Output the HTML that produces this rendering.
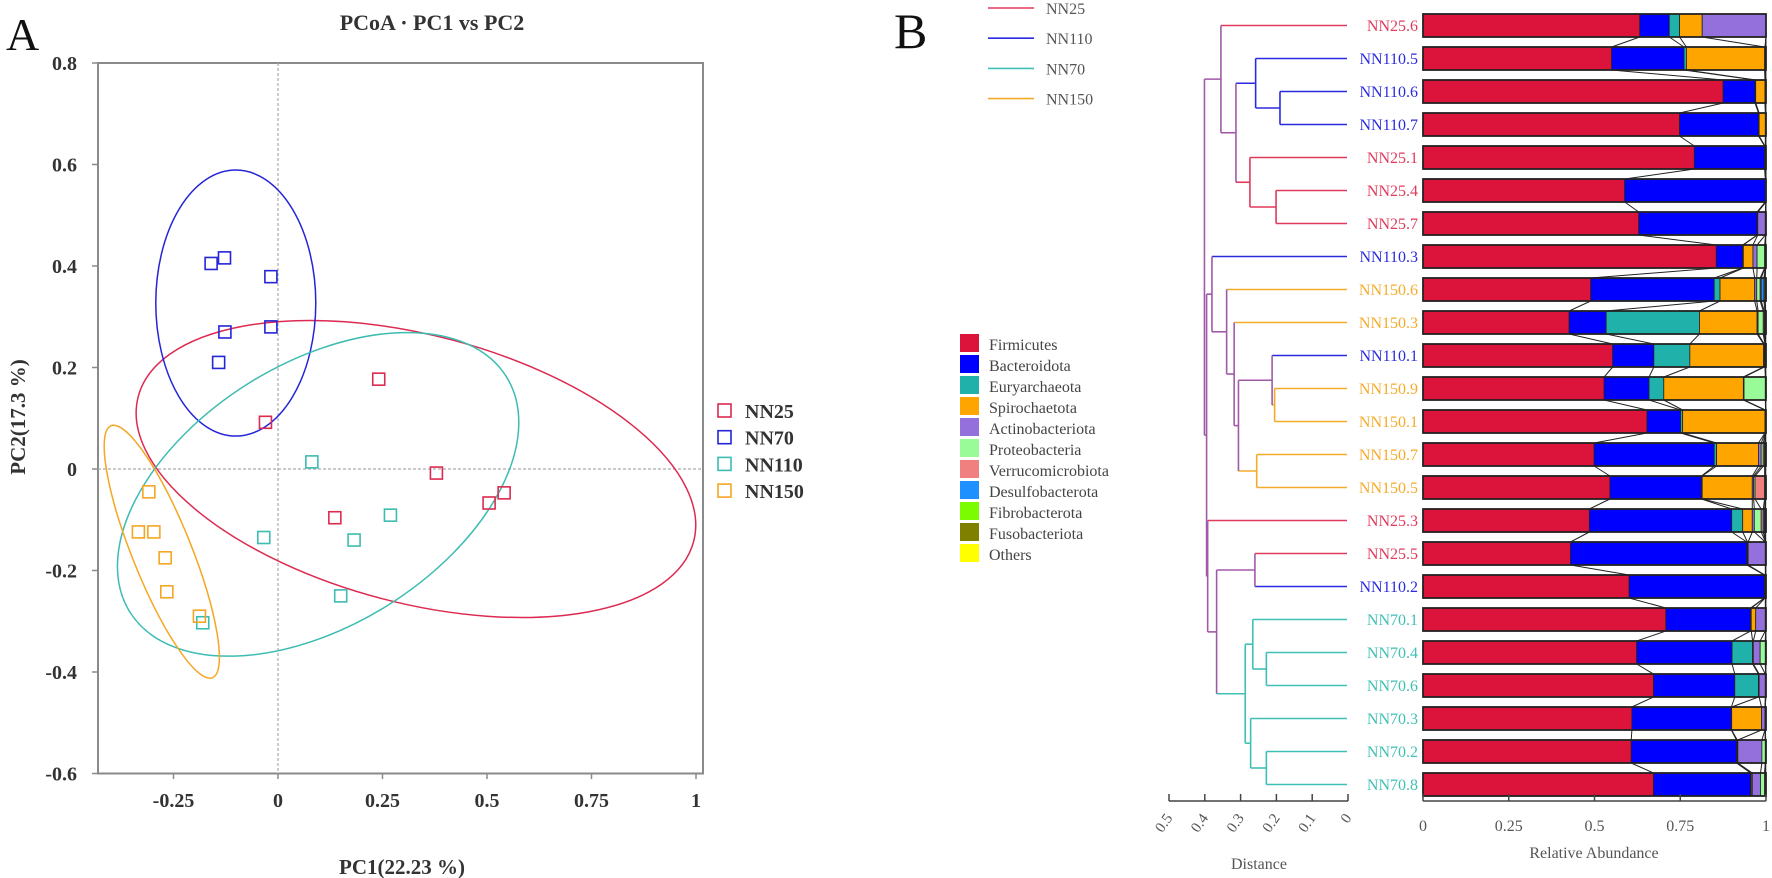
<!DOCTYPE html>
<html><head><meta charset="utf-8"><style>
html,body{margin:0;padding:0;background:#fff;}
svg{display:block;font-family:"Liberation Serif",serif;}
</style></head><body>
<svg id="fig" width="1772" height="878" viewBox="0 0 1772 878">
<text x="6" y="50" font-size="46" fill="#111">A</text>
<text x="432" y="30" font-size="22" font-weight="bold" fill="#333" text-anchor="middle">PCoA · PC1 vs PC2</text>
<text x="402" y="874" font-size="21" font-weight="bold" fill="#333" text-anchor="middle">PC1(22.23 %)</text>
<text transform="translate(25,417) rotate(-90)" font-size="21" font-weight="bold" fill="#333" text-anchor="middle">PC2(17.3 %)</text>
<text x="894" y="48" font-size="50" fill="#111">B</text>
<text x="1259" y="869" font-size="16" fill="#555" text-anchor="middle">Distance</text>
<text x="1594" y="858" font-size="16" fill="#555" text-anchor="middle">Relative Abundance</text>
<g id="pcoa"></g><g id="dend"></g><g id="bars"></g><g id="legends"></g>
</svg>
<script>
// ---------- PCoA data ----------
const groups = ["NN25","NN70","NN110","NN150"];
const groupColors = ["#dc2a50","#2424d8","#3cbcb2","#f5a623"];
const nn25PC1 = [0.241,-0.03,0.379,0.505,0.541,0.136];
const nn25PC2 = [0.177,0.092,-0.008,-0.067,-0.047,-0.096];
const nn70PC1 = [-0.16,-0.128,-0.017,-0.127,-0.017,-0.142];
const nn70PC2 = [0.405,0.416,0.379,0.27,0.28,0.21];
const nn110PC1 = [0.081,0.269,0.182,-0.034,0.15,-0.18];
const nn110PC2 = [0.014,-0.091,-0.14,-0.135,-0.25,-0.303];
const nn150PC1 = [-0.309,-0.334,-0.297,-0.27,-0.266,-0.188];
const nn150PC2 = [-0.045,-0.124,-0.124,-0.175,-0.242,-0.29];
const xTicks = [-0.25,0,0.25,0.5,0.75,1];
const xTickLabels = ["-0.25","0","0.25","0.5","0.75","1"];
const yTicks = [0.8,0.6,0.4,0.2,0,-0.2,-0.4,-0.6];
const yTickLabels = ["0.8","0.6","0.4","0.2","0","-0.2","-0.4","-0.6"];
// ellipses: center PC1, center PC2, semi-axes in PC1 / PC2 units along rotated axes approximated
const ellCx = [0.33,-0.101,0.096,-0.278];
const ellCy = [0.0,0.327,-0.050,-0.163];
const ellRx = [287,80,222,29.6];
const ellRy = [134,133,131,135.8];
const ellRot = [14.6,0,-32,-21.9];

// ---------- Cluster / bar data ----------
const sampleNames = ["NN25.6","NN110.5","NN110.6","NN110.7","NN25.1","NN25.4","NN25.7","NN110.3","NN150.6","NN150.3","NN110.1","NN150.9","NN150.1","NN150.7","NN150.5","NN25.3","NN25.5","NN110.2","NN70.1","NN70.4","NN70.6","NN70.3","NN70.2","NN70.8"];
const sampleGroup = ["NN25","NN110","NN110","NN110","NN25","NN25","NN25","NN110","NN150","NN150","NN110","NN150","NN150","NN150","NN150","NN25","NN25","NN110","NN70","NN70","NN70","NN70","NN70","NN70"];
const dendGroups = ["NN25","NN110","NN70","NN150"];
const dendColors = ["#e03a5a","#2a2ae0","#40c0b5","#f5ab2a"];
// merges: [a, b, height]; leaves referenced by name, nodes by "n"+index
const merges = [
 ["NN110.6","NN110.7",0.19],["NN110.5","n0",0.258],["NN25.4","NN25.7",0.201],["NN25.1","n2",0.274],
 ["n1","n3",0.313],["NN25.6","n4",0.355],
 ["NN150.9","NN150.1",0.205],["NN110.1","n6",0.212],["NN150.7","NN150.5",0.255],["n7","n8",0.306],
 ["NN150.3","n9",0.318],["NN150.6","n10",0.339],["NN110.3","n11",0.38],
 ["NN25.5","NN110.2",0.26],["NN70.4","NN70.6",0.228],["NN70.1","n14",0.266],["NN70.2","NN70.8",0.228],
 ["NN70.3","n16",0.272],["n15","n17",0.287],["n13","n18",0.367],["NN25.3","n19",0.392],
 ["n12","n20",0.395],["n5","n21",0.401]
];
const distTicks = [0.5,0.4,0.3,0.2,0.1,0];
const distTickLabels = ["0.5","0.4","0.3","0.2","0.1","0"];
const phyla = ["Firmicutes","Bacteroidota","Euryarchaeota","Spirochaetota","Actinobacteriota","Proteobacteria","Verrucomicrobiota","Desulfobacterota","Fibrobacterota","Fusobacteriota","Others"];
const phylaColors = ["#dc143c","#0000ff","#20b2aa","#ffa500","#9370db","#98fb98","#f08080","#1e90ff","#7cfc00","#808000","#ffff00"];
// per-sample abundances, order = phyla
const firmicutes     = [0.632,0.55,0.875,0.748,0.791,0.588,0.629,0.855,0.489,0.426,0.553,0.528,0.653,0.499,0.545,0.485,0.43,0.601,0.708,0.623,0.672,0.609,0.607,0.672];
const bacteroidota   = [0.086,0.211,0.093,0.23,0.205,0.41,0.345,0.077,0.36,0.108,0.12,0.131,0.098,0.35,0.267,0.415,0.514,0.394,0.247,0.278,0.237,0.29,0.307,0.283];
const euryarchaeota  = [0.03,0.007,0.002,0.002,0.001,0.001,0.001,0.002,0.017,0.272,0.105,0.043,0.006,0.007,0.002,0.032,0.002,0.001,0.002,0.06,0.069,0.001,0.002,0.002];
const spirochaetota  = [0.066,0.228,0.027,0.018,0.001,0.001,0.001,0.028,0.101,0.168,0.215,0.232,0.24,0.122,0.146,0.028,0.002,0.001,0.013,0.002,0.002,0.087,0.002,0.003];
const actinobact     = [0.186,0.001,0.001,0.001,0.001,0.0,0.022,0.012,0.006,0.003,0.002,0.002,0.001,0.008,0.004,0.006,0.05,0.001,0.028,0.02,0.018,0.01,0.07,0.024];
const proteobact     = [0.0,0.001,0.001,0.0,0.0,0.0,0.001,0.022,0.01,0.015,0.002,0.062,0.001,0.006,0.004,0.02,0.001,0.001,0.001,0.015,0.001,0.001,0.01,0.012];
const verrucomicro   = [0.0,0.001,0.0,0.0,0.0,0.0,0.0,0.001,0.003,0.003,0.001,0.001,0.0,0.004,0.028,0.006,0.0,0.0,0.0,0.0,0.0,0.0,0.0,0.0];
const desulfobact    = [0.0,0.0,0.0,0.0,0.0,0.0,0.0,0.001,0.008,0.002,0.001,0.0,0.0,0.002,0.002,0.004,0.0,0.0,0.0,0.001,0.0,0.0,0.0,0.002];
const fibrobact      = [0.0,0.0,0.0,0.0,0.0,0.0,0.0,0.001,0.003,0.002,0.0,0.0,0.0,0.001,0.001,0.002,0.0,0.0,0.0,0.001,0.0,0.0,0.001,0.001];
const fusobact       = [0.0,0.0,0.0,0.0,0.0,0.0,0.0,0.0,0.001,0.0,0.0,0.0,0.0,0.0,0.0,0.001,0.0,0.0,0.0,0.0,0.0,0.0,0.0,0.0];
const others         = [0.0,0.0,0.001,0.001,0.001,0.0,0.001,0.001,0.002,0.001,0.001,0.001,0.001,0.001,0.001,0.001,0.001,0.001,0.001,0.0,0.001,0.002,0.001,0.001];
const abundance = [firmicutes,bacteroidota,euryarchaeota,spirochaetota,actinobact,proteobact,verrucomicro,desulfobact,fibrobact,fusobact,others];
const abTicks = [0,0.25,0.5,0.75,1];
const abTickLabels = ["0","0.25","0.5","0.75","1"];

// ---------- helpers ----------
const NS="http://www.w3.org/2000/svg";
function mk(tag,attrs,parent){const e=document.createElementNS(NS,tag);for(const k in attrs)e.setAttribute(k,attrs[k]);parent.appendChild(e);return e;}
const px=v=>278+418*v, py=v=>469-507.5*v;
const dx=d=>1348-358*d, ax=v=>1423+343*v;
const rowTop=i=>14+33*i, rowC=i=>25.5+33*i;

// ---------- PCoA ----------
const P=document.getElementById('pcoa');
let e;
e=mk('rect',{x:98,y:63,width:605,height:710.5,fill:'none',stroke:'#8a8a8a','stroke-width':2},P);


e=mk('line',{x1:px(0),x2:px(0),y1:63,y2:773.5,stroke:'#aaa','stroke-dasharray':'3,2','stroke-width':1.2},P);


e=mk('line',{x1:98,x2:703,y1:py(0),y2:py(0),stroke:'#aaa','stroke-dasharray':'3,2','stroke-width':1.2},P);


yTicks.forEach((v,i)=>{
  e=mk('line',{x1:92,x2:98,y1:py(v),y2:py(v),stroke:'#8a8a8a','stroke-width':1.5},P);
  
  
  e=mk('text',{x:77,y:py(v)+7,'font-size':20,'font-weight':'bold',fill:'#333','text-anchor':'end'},P);
  e.textContent=yTickLabels[i];
  
  
});
xTicks.forEach((v,i)=>{
  e=mk('line',{x1:px(v),x2:px(v),y1:773.5,y2:779,stroke:'#8a8a8a','stroke-width':1.5},P);
  
  
  e=mk('text',{x:px(v),y:807,'font-size':20,'font-weight':'bold',fill:'#333','text-anchor':'middle'},P);
  e.textContent=xTickLabels[i];
  
  
});
groups.forEach((g,gi)=>{
  e=mk('ellipse',{cx:px(ellCx[gi]),cy:py(ellCy[gi]),rx:ellRx[gi],ry:ellRy[gi],fill:'none',stroke:groupColors[gi],'stroke-width':1.5,transform:`rotate(${ellRot[gi]} ${px(ellCx[gi])} ${py(ellCy[gi])})`},P);
  
  
});
const pcx=[nn25PC1,nn70PC1,nn110PC1,nn150PC1], pcy=[nn25PC2,nn70PC2,nn110PC2,nn150PC2];
groups.forEach((g,gi)=>{
  pcx[gi].forEach((v,j)=>{
    e=mk('rect',{x:px(v)-6,y:py(pcy[gi][j])-6,width:12,height:12,fill:'none',stroke:groupColors[gi],'stroke-width':1.6},P);
    
    
  });
  e=mk('rect',{x:718,y:404+26.7*gi,width:13,height:13,fill:'none',stroke:groupColors[gi],'stroke-width':1.6},P);
  
  
  e=mk('text',{x:745,y:418+26.7*gi,'font-size':20,'font-weight':'bold',fill:'#333'},P);
  e.textContent=g;
  
  
});

// ---------- Dendrogram ----------
const D=document.getElementById('dend');
const PURPLE='#a05aa8';
const nodes=[];
function info(ref){
  if(ref[0]==='n'&&ref.indexOf('.')<0){return nodes[+ref.slice(1)];}
  const i=sampleNames.indexOf(ref);const g=sampleGroup[i];
  return {y:rowC(i),h:0,grp:g};
}
function colorOf(grp){return grp?dendColors[dendGroups.indexOf(grp)]:PURPLE;}
merges.forEach(m=>{
  const a=info(m[0]),b=info(m[1]);const h=m[2];
  const grp=(a.grp&&a.grp===b.grp)?a.grp:null;
  [a,b].forEach(c=>{
    const x2=c.h===0?1347:dx(c.h);
    e=mk('line',{x1:dx(h),x2:x2,y1:c.y,y2:c.y,stroke:colorOf(c.grp),'stroke-width':1.6},D);
    
    
  });
  e=mk('line',{x1:dx(h),x2:dx(h),y1:a.y,y2:b.y,stroke:colorOf(grp),'stroke-width':1.6},D);
  
  
  nodes.push({y:(a.y+b.y)/2,h:h,grp:grp});
});
sampleNames.forEach((s,i)=>{
  e=mk('text',{x:1418,y:rowC(i)+5.5,'font-size':16,fill:colorOf(sampleGroup[i]),'text-anchor':'end'},D);
  e.textContent=s;
  
  
});
e=mk('line',{x1:dx(0.5),x2:dx(0),y1:801,y2:801,stroke:'#444','stroke-width':1.5},D);


distTicks.forEach((v,i)=>{
  e=mk('line',{x1:dx(v),x2:dx(v),y1:794,y2:801,stroke:'#444','stroke-width':1.5},D);
  
  
  e=mk('text',{transform:`translate(${dx(v)+4},${818}) rotate(-55)`,'font-size':15,fill:'#555','text-anchor':'end'},D);
  e.textContent=distTickLabels[i];
  
  
});

// ---------- Bars ----------
const B=document.getElementById('bars');
const cum=sampleNames.map((s,i)=>{let c=0;return abundance.map(arr=>{c+=arr[i];return c;});});
// connectors
for(let i=0;i<sampleNames.length-1;i++){
  for(let k=0;k<phyla.length-1;k++){
    e=mk('line',{x1:ax(Math.min(cum[i][k],1)),y1:rowTop(i)+23,x2:ax(Math.min(cum[i+1][k],1)),y2:rowTop(i+1),stroke:'#222','stroke-width':1},B);
    
    
  }
}
sampleNames.forEach((s,i)=>{
  let start=0;
  abundance.forEach((arr,k)=>{
    const v=arr[i]; if(v<=0)return;
    const end=Math.min(start+v,1);
    e=mk('rect',{x:ax(start),y:rowTop(i),width:Math.max(ax(end)-ax(start),0),height:23,fill:phylaColors[k],stroke:'#222','stroke-width':0.8},B);
    
    
    start=end;
  });
  e=mk('rect',{x:ax(0),y:rowTop(i),width:ax(1)-ax(0),height:23,fill:'none',stroke:'#222','stroke-width':1.8},B);
  
  
});
e=mk('line',{x1:ax(0),x2:ax(1),y1:801,y2:801,stroke:'#444','stroke-width':1.5},B);


abTicks.forEach((v,i)=>{
  e=mk('line',{x1:ax(v),x2:ax(v),y1:794,y2:801,stroke:'#444','stroke-width':1.5},B);
  
  
  e=mk('text',{x:ax(v),y:831,'font-size':16,fill:'#555','text-anchor':'middle'},B);
  e.textContent=abTickLabels[i];
  
  
});

// ---------- Legends ----------
const L=document.getElementById('legends');
dendGroups.forEach((g,i)=>{
  e=mk('line',{x1:988,x2:1034,y1:8+30.2*i,y2:8+30.2*i,stroke:dendColors[i],'stroke-width':1.6},L);
  
  
  e=mk('text',{x:1046,y:14+30.2*i,'font-size':16,fill:'#555'},L);
  e.textContent=g;
  
  
});
phyla.forEach((p,i)=>{
  e=mk('rect',{x:960,y:334+21*i,width:19,height:18,fill:phylaColors[i]},L);
  
  
  e=mk('text',{x:989,y:350+21*i,'font-size':16,fill:'#444'},L);
  e.textContent=p;
  
  
});
</script>
</body></html>
